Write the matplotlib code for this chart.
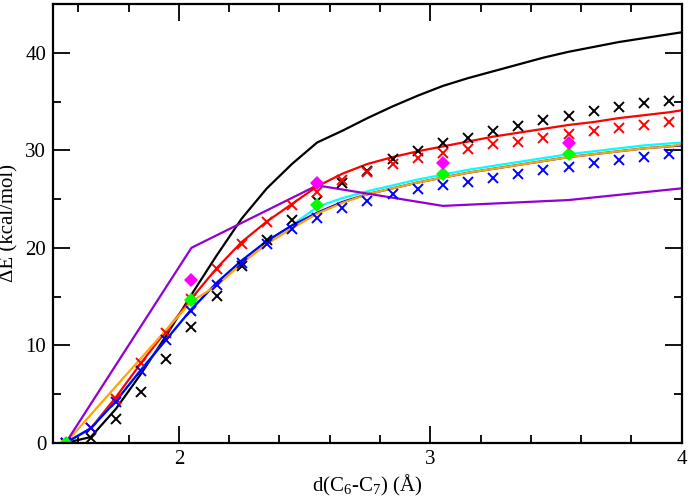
import matplotlib
matplotlib.use("Agg")
from matplotlib import pyplot as plt
from matplotlib.ticker import MultipleLocator
import numpy as np

plt.rcParams['font.family'] = ['Liberation Serif', 'DejaVu Serif']
plt.rcParams['mathtext.fontset'] = 'custom'
plt.rcParams['mathtext.rm'] = 'Liberation Serif'
plt.rcParams['mathtext.it'] = 'Liberation Serif:italic'

# scan distances (Angstrom), 0.1 step
d_scan = [1.55, 1.65, 1.75, 1.85, 1.95, 2.05, 2.15, 2.25, 2.35, 2.45, 2.55, 2.65,
          2.75, 2.85, 2.95, 3.05, 3.15, 3.25, 3.35, 3.45, 3.55, 3.65, 3.75, 3.85, 3.95]

# crosses
black_x = [0.0, 0.5, 2.4, 5.2, 8.6, 11.9, 15.1, 18.1, 20.8, 22.9, 24.8, 26.6,
           27.9, 29.1, 29.9, 30.7, 31.3, 32.0, 32.5, 33.1, 33.5, 34.0, 34.4, 34.8, 35.1]
red_x = [0.0, 1.5, 4.5, 8.2, 11.3, 14.8, 17.8, 20.4, 22.6, 24.4, 25.7, 27.0,
         27.8, 28.6, 29.2, 29.7, 30.1, 30.6, 30.9, 31.3, 31.7, 32.0, 32.3, 32.6, 32.9]
blue_x = [0.0, 1.5, 4.2, 7.4, 10.5, 13.5, 16.2, 18.4, 20.4, 21.9, 23.1, 24.1,
          24.8, 25.5, 26.0, 26.4, 26.8, 27.2, 27.6, 28.0, 28.3, 28.7, 29.0, 29.3, 29.6]

# curves
d_line = d_scan + [4.0]
black_line = [0.0, 0.6, 3.5, 7.1, 11.0, 15.2, 19.2, 23.0, 26.1, 28.6, 30.8, 32.0,
              33.3, 34.5, 35.6, 36.6, 37.4, 38.1, 38.8, 39.5, 40.1, 40.6, 41.1, 41.5, 41.9, 42.1]
red_line = [0.0, 1.5, 4.7, 8.2, 11.5, 14.8, 17.9, 20.6, 22.7, 24.5, 26.3, 27.6,
            28.6, 29.3, 29.9, 30.4, 30.9, 31.4, 31.8, 32.2, 32.6, 32.9, 33.3, 33.6, 33.9, 34.1]
blue_line = [0.0, 1.5, 4.3, 7.5, 10.6, 13.7, 16.4, 18.7, 20.7, 22.3, 23.6, 24.7,
             25.5, 26.1, 26.7, 27.2, 27.7, 28.1, 28.5, 28.9, 29.3, 29.6, 29.9, 30.2, 30.4, 30.5]
orange_line = [0.0, 2.9, 5.8, 8.7, 11.6, 14.5, 16.1, 18.4, 20.4, 22.0, 23.5, 24.6,
               25.5, 26.1, 26.7, 27.2, 27.7, 28.1, 28.5, 28.9, 29.3, 29.6, 29.9, 30.2, 30.4, 30.6]
cyan_line = [0.0, 1.5, 4.3, 7.5, 10.6, 13.7, 16.4, 18.7, 20.7, 22.3, 24.2, 25.1,
             25.8, 26.4, 27.0, 27.5, 28.0, 28.4, 28.8, 29.2, 29.6, 29.9, 30.2, 30.5, 30.7, 30.8]

# coarse points
d_coarse = [1.55, 2.05, 2.55, 3.05, 3.55, 4.0]
purple_line = [0.0, 20.0, 26.4, 24.3, 24.9, 26.1]

d_diam = [1.55, 2.05, 2.55, 3.05, 3.55]
green_diam = [0.0, 14.6, 24.4, 27.6, 29.6]
d_mag = [2.05, 2.55, 3.05, 3.55]
magenta_diam = [16.7, 26.6, 28.7, 30.7]

fig = plt.figure(figsize=(6.9, 5.01), dpi=100)
ax = fig.add_axes([0.077, 0.116, 0.911, 0.876])

lw = 1.6
ax.plot(d_line, black_line, color='black', lw=lw)
ax.plot(d_line, red_line, color='red', lw=lw)
ax.plot(d_line, cyan_line, color='#00ffff', lw=lw)
ax.plot(d_line, blue_line, color='blue', lw=lw)
ax.plot(d_line, orange_line, color='#ffa500', lw=lw)
ax.plot(d_coarse, purple_line, color='#9400d3', lw=lw)

ms = 7
ax.plot(d_scan, black_x, 'x', color='black', ms=ms, mew=1.4)
ax.plot(d_scan, red_x, 'x', color='red', ms=ms, mew=1.4)
ax.plot(d_scan, blue_x, 'x', color='blue', ms=ms, mew=1.4)
ax.plot(d_diam, green_diam, 'D', color='#00ff00', ms=7, mew=0)
ax.plot(d_mag, magenta_diam, 'D', color='#ff00ff', ms=7, mew=0)

ax.set_xlim(1.5, 4.0)
ax.set_ylim(0, 45)
ax.xaxis.set_major_locator(MultipleLocator(1))
ax.xaxis.set_minor_locator(MultipleLocator(0.2))
ax.yaxis.set_major_locator(MultipleLocator(10))
ax.yaxis.set_minor_locator(MultipleLocator(5))
ax.tick_params(which='both', direction='in', top=True, right=True,
               labelsize=15, width=1.3)
ax.tick_params(which='major', length=12, pad=5)
ax.tick_params(which='minor', length=6)
for s in ax.spines.values():
    s.set_linewidth(1.6)

ax.set_xlabel('d(C$_6$-C$_7$) ($\\mathrm{\\AA}$)', fontsize=15, labelpad=3)
ax.set_ylabel('\u0394E (kcal/mol)', fontsize=15, labelpad=5)

fig.savefig('out.png', dpi=100)
